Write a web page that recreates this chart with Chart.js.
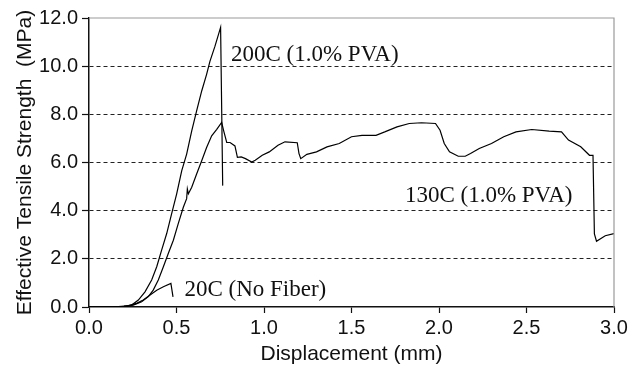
<!DOCTYPE html>
<html>
<head>
<meta charset="utf-8">
<script src="https://cdn.jsdelivr.net/npm/chart.js"></script>
<style>
  html, body { margin: 0; padding: 0; background: #fff; }
  #wrap { width: 642px; height: 371px; }
</style>
</head>
<body>
<div id="wrap"><canvas id="chart1" width="642" height="371"></canvas></div>
<script>
// Data (displacement in mm, strength in MPa)
const x_200 = [0, 0.14, 0.2, 0.244, 0.282, 0.32, 0.358, 0.387, 0.415, 0.444, 0.472, 0.501, 0.53, 0.558, 0.587,
    0.615, 0.644, 0.672, 0.691, 0.72, 0.752, 0.764]
const y_200 = [0, 0.01, 0.03, 0.08, 0.29, 0.63, 1.12, 1.67, 2.36, 3.05, 3.87, 4.70, 5.66, 6.35, 7.31,
    8.14, 8.97, 9.66, 10.2, 10.83, 11.61, 5.04]

const x_130 = [0, 0.15, 0.2, 0.253, 0.301, 0.339, 0.367, 0.396, 0.425, 0.453, 0.482, 0.51, 0.539, 0.558, 0.562, 0.568,
    0.587, 0.615, 0.644, 0.672, 0.701, 0.73, 0.758,
    0.77, 0.787, 0.806, 0.834, 0.848, 0.87, 0.894, 0.93, 0.95, 0.99, 1.03, 1.08, 1.12, 1.19, 1.20, 1.21, 1.245,
    1.30, 1.36, 1.43, 1.50, 1.56, 1.64, 1.69, 1.76, 1.83, 1.90, 1.98, 2.006, 2.03, 2.06, 2.11, 2.15, 2.18, 2.23,
    2.30, 2.37, 2.44, 2.53, 2.63, 2.70, 2.74, 2.81, 2.86, 2.88, 2.888, 2.90, 2.95, 3.0]
const y_130 = [0, 0.01, 0.03, 0.08, 0.22, 0.43, 0.70, 1.12, 1.67, 2.22, 2.77, 3.46, 4.14, 4.5, 4.9, 4.70,
    4.97, 5.52, 6.07, 6.62, 7.11, 7.38, 7.66,
    7.3, 6.83, 6.83, 6.69, 6.21, 6.23, 6.16, 6.02, 6.09, 6.3, 6.44, 6.72, 6.86, 6.82, 6.37, 6.16, 6.34,
    6.44, 6.65, 6.79, 7.07, 7.13, 7.13, 7.27, 7.48, 7.62, 7.65, 7.62, 7.34, 6.79, 6.44, 6.26, 6.26, 6.37, 6.58,
    6.79, 7.07, 7.27, 7.37, 7.30, 7.27, 6.93, 6.65, 6.30, 6.30, 3.03, 2.73, 2.96, 3.05]

const x_20 = [0, 0.15, 0.22, 0.272, 0.31, 0.349, 0.387, 0.425, 0.468, 0.48]
const y_20 = [0, 0.01, 0.05, 0.15, 0.29, 0.50, 0.70, 0.84, 0.98, 0.42]

const x_ticks = [0, 0.5, 1.0, 1.5, 2.0, 2.5, 3.0]
const y_ticks = [0, 2, 4, 6, 8, 10, 12]

const labels = [
    { text: '200C (1.0% PVA)', x: 0.811, y: 10.2 },
    { text: '130C (1.0% PVA)', x: 1.805, y: 4.38 },
    { text: '20C (No Fiber)', x: 0.545, y: 0.45 },
]

// Helpers
const zip = (a, b) => a.map((k, i) => ({ x: k, y: b[i] }))

const series = (data) => ({
    data: data,
    borderColor: '#000',
    borderWidth: 1.2,
    pointRadius: 0,
    tension: 0,
    fill: false,
})

// plugins: gray frame top/right, text labels
const frame_plugin = {
    id: 'frame',
    afterDraw(chart) {
        const { ctx, chartArea: a } = chart
        ctx.save()
        ctx.strokeStyle = '#9a9a9a'
        ctx.lineWidth = 1.2
        ctx.beginPath()
        ctx.moveTo(a.left, a.top)
        ctx.lineTo(a.right, a.top)
        ctx.lineTo(a.right, a.bottom)
        ctx.stroke()
        ctx.restore()
    }
}

const label_plugin = {
    id: 'curveLabels',
    afterDatasetsDraw(chart) {
        const { ctx, scales } = chart
        ctx.save()
        ctx.fillStyle = '#111'
        ctx.font = '23px "Liberation Serif", "Times New Roman", serif'
        ctx.textAlign = 'left'
        ctx.textBaseline = 'alphabetic'
        labels.forEach(l => {
            ctx.fillText(l.text, scales.x.getPixelForValue(l.x), scales.y.getPixelForValue(l.y))
        })
        ctx.restore()
    }
}

const tick_font = { family: '"Liberation Sans", Arial, sans-serif', size: 20 }
const title_font = { family: '"Liberation Sans", Arial, sans-serif', size: 21 }

const config = {
    type: 'line',
    data: {
        datasets: [series(zip(x_200, y_200)), series(zip(x_130, y_130)), series(zip(x_20, y_20))]
    },
    options: {
        responsive: false,
        animation: false,
        layout: { padding: { top: 18, right: 28, bottom: 0, left: 0 } },
        plugins: { legend: { display: false }, tooltip: { enabled: false } },
        scales: {
            x: {
                type: 'linear',
                min: 0, max: 3,
                afterBuildTicks: s => { s.ticks = x_ticks.map(v => ({ value: v })) },
                afterFit: s => { s.height = 64 },
                ticks: { color: '#111', font: tick_font, padding: 3, maxRotation: 0, callback: v => v.toFixed(1) },
                grid: { drawOnChartArea: false, tickLength: 6, tickColor: '#111', tickWidth: 1.2 },
                border: { color: '#111', width: 1.5 },
                title: { display: true, text: 'Displacement (mm)', color: '#111', font: title_font, padding: { top: 0 } }
            },
            y: {
                min: 0, max: 12,
                afterBuildTicks: s => { s.ticks = y_ticks.map(v => ({ value: v })) },
                afterFit: s => { s.width = 89 },
                ticks: { color: '#111', font: tick_font, padding: 4, callback: v => v.toFixed(1) },
                grid: {
                    color: c => (c.tick.value === 0 || c.tick.value === 12) ? 'rgba(0,0,0,0)' : '#222',
                    lineWidth: 1,
                    tickLength: 7,
                    tickColor: '#111',
                    tickWidth: 1.2,
                },
                border: { color: '#111', width: 1.5, dash: [4, 3] },
                title: { display: true, text: 'Effective Tensile Strength  (MPa)', color: '#111', font: title_font, padding: { top: 13, bottom: 0 } }
            }
        }
    },
    plugins: [frame_plugin, label_plugin]
}

new Chart(document.getElementById('chart1'), config)
</script>
</body>
</html>
